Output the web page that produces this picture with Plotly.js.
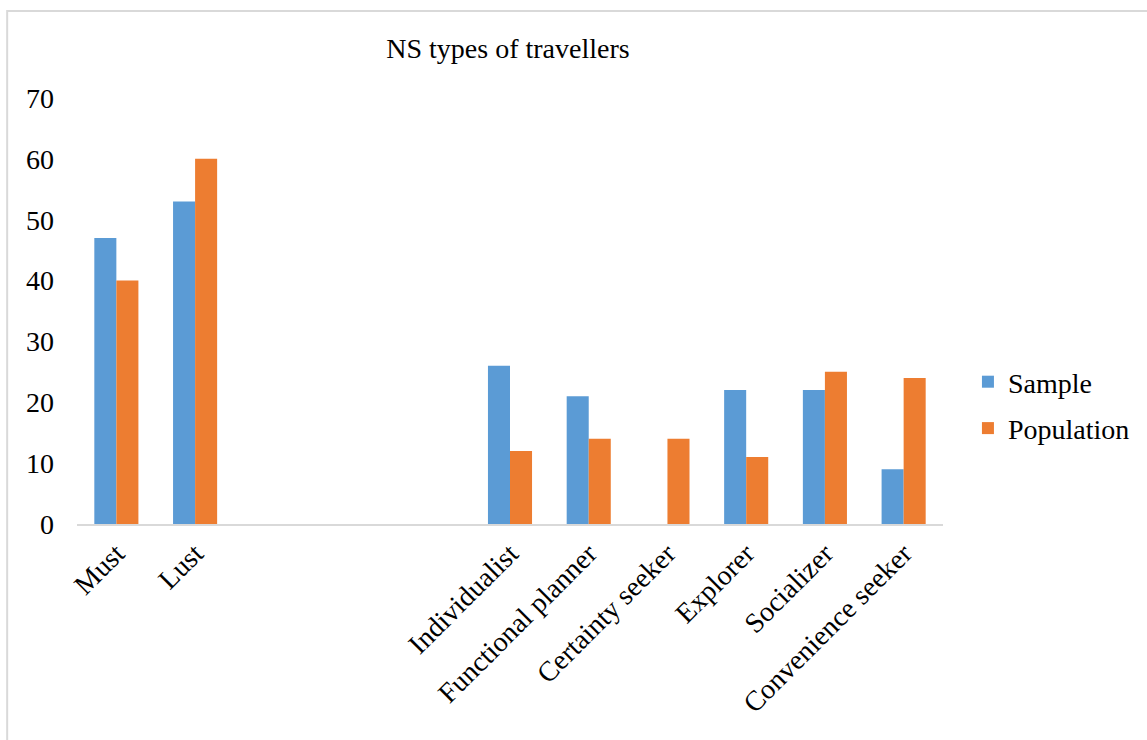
<!DOCTYPE html>
<html>
<head>
<meta charset="utf-8">
<script src="https://cdn.plot.ly/plotly-3.0.1.min.js"></script>
<style>
  html, body { margin: 0; padding: 0; background: #ffffff; }
  #chart { width: 1147px; height: 740px; }
</style>
</head>
<body>
<div id="chart"></div>
<script>
// Traveller types; the empty entries leave gaps between the two groups.
const categories = ['Must', 'Lust', '', '', '', 'Individualist', 'Functional planner',
  'Certainty seeker', 'Explorer', 'Socializer', 'Convenience seeker'];
const sampleValues = [47, 53, null, null, null, 26, 21, 0, 22, 22, 9];
const populationValues = [40, 60, null, null, null, 12, 14, 14, 11, 25, 24];
const yTickValues = [0, 10, 20, 30, 40, 50, 60, 70];

const W = 1147, H = 740;
const margin = { l: 77, r: 202, t: 98, b: 216 };
const plotW = W - margin.l - margin.r;
const plotH = H - margin.t - margin.b;
// pixel -> paper coordinate helpers for the outer frame
const px = x => (x - margin.l) / plotW;
const py = y => (H - margin.b - y) / plotH;

const positions = categories.map((c, i) => i);
const font = 'Liberation Serif';
const textFont = { family: font, size: 28, color: '#000000' };

const traces = [
  { type: 'bar', name: 'Sample', x: positions, y: sampleValues, legendgroup: 's',
    marker: { color: '#5b9bd5' }, hoverinfo: 'skip' },
  { type: 'bar', name: 'Population', x: positions, y: populationValues, legendgroup: 'p',
    marker: { color: '#ed7d31' }, hoverinfo: 'skip' }
];

const layout = {
  width: W, height: H,
  margin: margin,
  paper_bgcolor: '#ffffff', plot_bgcolor: '#ffffff',
  font: textFont,
  title: { text: 'NS types of travellers', xref: 'container', x: 508 / W, xanchor: 'center',
           yref: 'container', y: 1 - 48 / H, yanchor: 'middle', font: textFont },
  barmode: 'group',
  bargap: 0.44,
  bargroupgap: 0,
  showlegend: true,
  legend: { x: px(970), xanchor: 'left', y: py(405), yanchor: 'middle',
            font: textFont, traceorder: 'grouped', tracegroupgap: 7,
            bgcolor: 'rgba(0,0,0,0)', itemwidth: 30 },
  xaxis: {
    range: [-0.5, categories.length - 0.5],
    tickmode: 'array', tickvals: positions, ticktext: categories,
    tickangle: -45, showgrid: false, zeroline: false,
    showline: true, linecolor: '#d9d9d9', linewidth: 2,
    ticks: '', ticklen: 0, tickfont: textFont
  },
  yaxis: {
    range: [0, 70], tickmode: 'array', tickvals: yTickValues,
    showgrid: false, zeroline: false, showline: false, ticks: '',
    ticklabelstandoff: 22,
    tickfont: textFont
  },
  shapes: [
    { type: 'rect', xref: 'paper', yref: 'paper',
      x0: px(7), x1: px(1160), y0: py(760), y1: py(11),
      line: { color: '#d9d9d9', width: 2 }, fillcolor: 'rgba(0,0,0,0)', layer: 'below' }
  ]
};

Plotly.newPlot('chart', traces, layout, { staticPlot: true, displayModeBar: false });
</script>
</body>
</html>
